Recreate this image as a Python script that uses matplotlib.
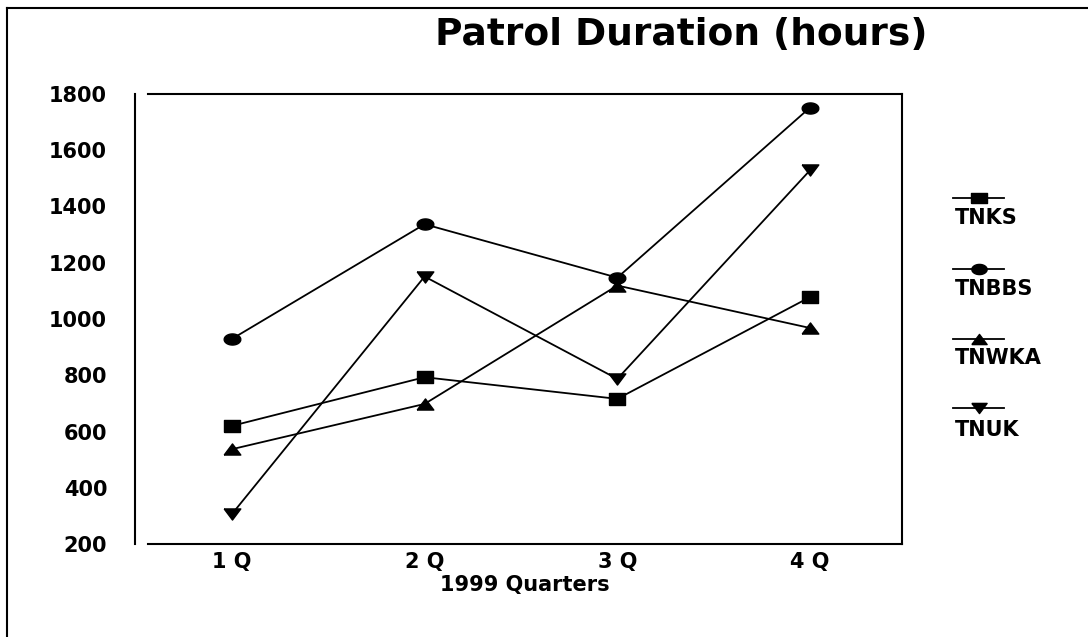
import matplotlib
matplotlib.use('Agg')
import matplotlib.pyplot as plt
import numpy as np
from matplotlib.lines import Line2D

# ---------------- Data ----------------
quarters = ['1 Q', '2 Q', '3 Q', '4 Q']
series_names = ['TNKS', 'TNBBS', 'TNWKA', 'TNUK']
tnks = [620, 793, 716, 1078]
tnbbs = [929, 1337, 1147, 1752]
tnwka = [537, 698, 1119, 968]
tnuk = [306, 1151, 787, 1529]
y_ticks = [200, 400, 600, 800, 1000, 1200, 1400, 1600, 1800]

# ---------------- Wide markers (the original is stretched horizontally) ----------------
W = 0.75
square = [(-W, -0.5), (W, -0.5), (W, 0.5), (-W, 0.5), (-W, -0.5)]
t = np.linspace(0, 2 * np.pi, 40)
ellipse = list(zip(W * np.cos(t), 0.5 * np.sin(t)))
tri_up = [(-W, -0.5), (W, -0.5), (0, 0.5), (-W, -0.5)]
tri_down = [(-W, 0.5), (W, 0.5), (0, -0.5), (-W, 0.5)]
markers = [square, ellipse, tri_up, tri_down]
all_series = [tnks, tnbbs, tnwka, tnuk]

FONT = 'DejaVu Sans'
plt.rcParams['font.family'] = FONT
plt.rcParams['font.weight'] = 'bold'

fig = plt.figure(figsize=(10.88, 6.37), dpi=100)
W_PX, H_PX = 1088, 637

# axes box: left 148, right 902, top 94, bottom 544 (pixels)
ax = fig.add_axes([148 / W_PX, 1 - 544 / H_PX, (902 - 148) / W_PX, (544 - 94) / H_PX])

# spine position first, it resets the tick settings
for s in ax.spines.values():
    s.set_linewidth(1.5)
ax.spines['left'].set_position(('outward', 9.4))

x = np.arange(len(quarters))
for vals, mk in zip(all_series, markers):
    ax.plot(x, vals, color='black', linewidth=1.3, marker=mk,
            markersize=12, markerfacecolor='black', markeredgecolor='black')

ax.set_xlim(-0.435, 3.477)
ax.set_ylim(200, 1800)
ax.set_xticks(x)
ax.set_xticklabels(quarters, fontsize=15, fontweight='bold')
ax.set_yticks(y_ticks)
ax.set_yticklabels([str(v) for v in y_ticks], fontsize=15, fontweight='bold')
ax.tick_params(axis='y', length=0, pad=20)
ax.tick_params(axis='x', length=0, pad=6)
ax.set_xlabel('1999 Quarters', fontsize=15, fontweight='bold', labelpad=2)

# title
fig.text(681 / W_PX, 1 - 35 / H_PX, 'Patrol Duration (hours)', ha='center', va='center',
         fontsize=27, fontweight='bold')

# legend: marker line above the label
marker_y = [198, 269, 339, 408]
label_y = [218, 289, 358, 430]
for name, mk, my, ly in zip(series_names, markers, marker_y, label_y):
    fig.add_artist(Line2D([953 / W_PX, 1004 / W_PX], [1 - my / H_PX, 1 - my / H_PX],
                          transform=fig.transFigure, color='black', linewidth=1.3))
    fig.add_artist(Line2D([979 / W_PX], [1 - my / H_PX], transform=fig.transFigure,
                          marker=mk, markersize=11, color='black', linestyle='none'))
    fig.text(955 / W_PX, 1 - ly / H_PX, name, ha='left', va='center',
             fontsize=15, fontweight='bold')

# page border (top and left only are visible)
fig.add_artist(Line2D([7 / W_PX, 1.0], [1 - 8 / H_PX, 1 - 8 / H_PX],
                      transform=fig.transFigure, color='black', linewidth=1.5))
fig.add_artist(Line2D([7 / W_PX, 7 / W_PX], [1 - 8 / H_PX, 0.0],
                      transform=fig.transFigure, color='black', linewidth=1.5))

fig.savefig('out.png', dpi=100)
